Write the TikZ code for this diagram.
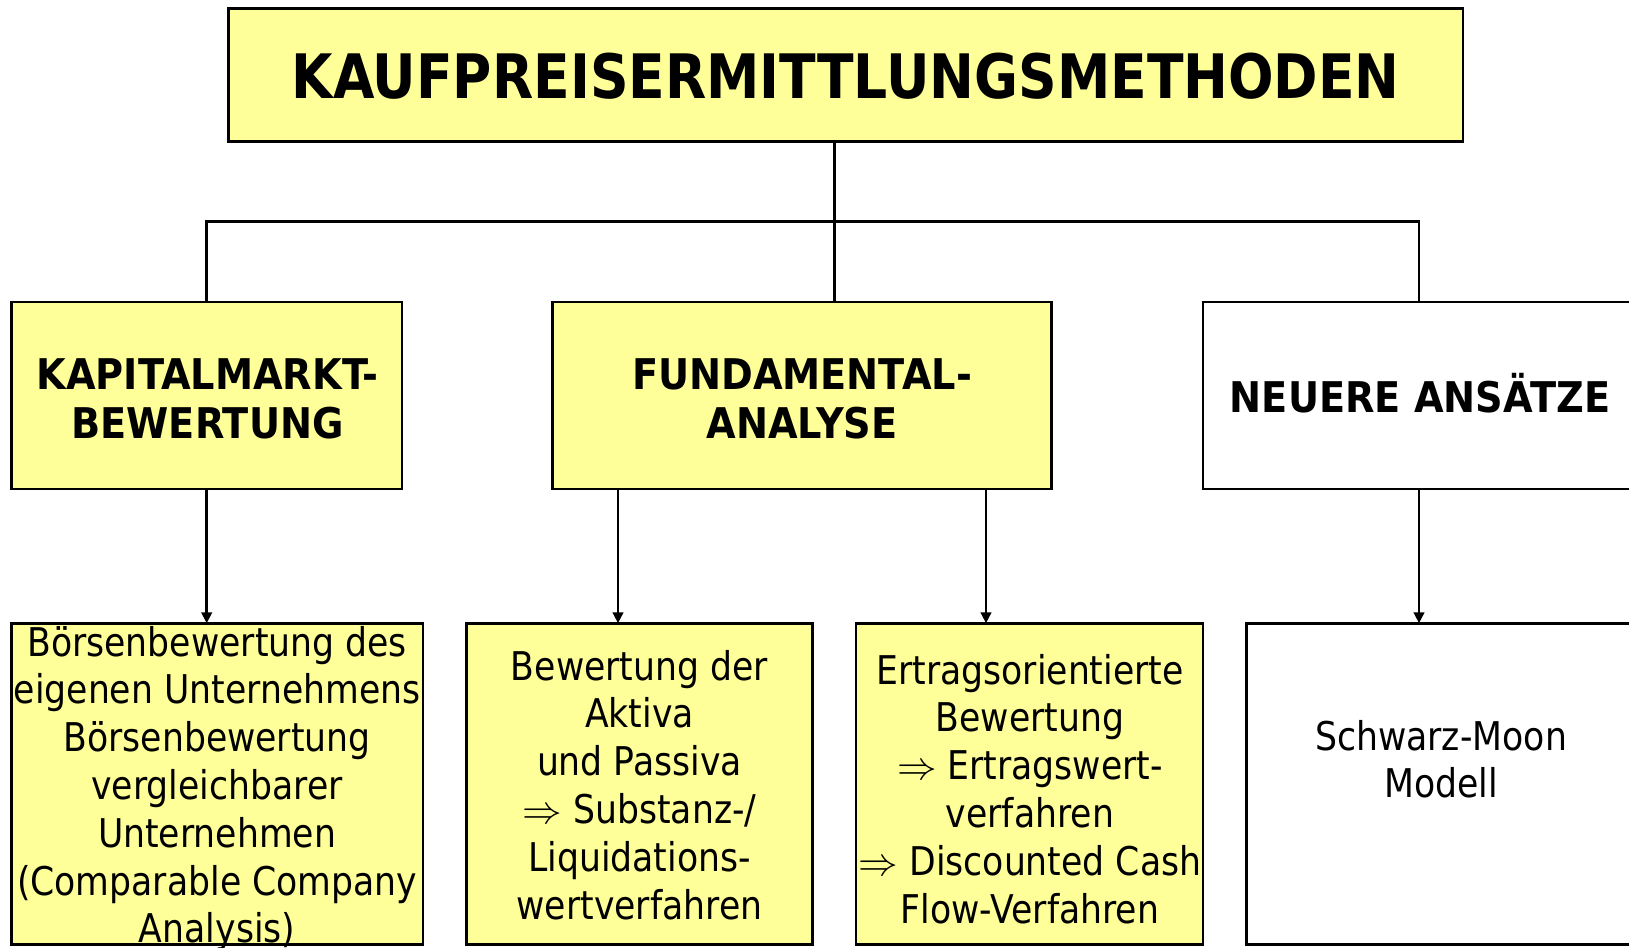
\RequirePackage{fix-cm}
\documentclass[tikz,border=0pt]{standalone}
\usepackage{fontspec}
\setmainfont{DejaVu Sans}[FakeStretch=0.875]
\newfontfamily\headfont{DejaVu Sans}[FakeStretch=0.905]
\newfontfamily\titlefont{DejaVu Sans}[FakeStretch=0.874]
\usetikzlibrary{arrows.meta}
\definecolor{boxyellow}{HTML}{FFFF99}

\tikzset{
  panel/.style={draw=black, line width=2.6pt, inner sep=0pt, outer sep=0pt},
  yellowpanel/.style={panel, fill=boxyellow},
  label/.style={inner sep=0pt, outer sep=0pt, anchor=base},
  headtext/.style={label, font=\headfont\bfseries\fontsize{42.3}{49.5}\selectfont},
  bodytext/.style={label, font=\fontsize{39.6}{47.8}\selectfont},
  link/.style={draw=black, line width=2.6pt},
  arrowlink/.style={link, -{Triangle[length=11pt,width=10.5pt]}}
}

\newcommand{\lines}[1]{\begin{tabular}[t]{@{}c@{}}#1\end{tabular}}

\begin{document}
\begin{tikzpicture}[x=1pt,y=-1pt]
  \useasboundingbox (0,0) rectangle (1629,947);
  \clip (0,0) rectangle (1629,947);

  % boxes
  \node[yellowpanel, minimum width=1234.2pt, minimum height=133pt] (top) at (845.7,74.8) {};
  \node[yellowpanel, minimum width=390.6pt, minimum height=187pt] (kap) at (206.7,395.5) {};
  \node[yellowpanel, minimum width=498.7pt, minimum height=187pt] (fund) at (802,395.5) {};
  \node[panel, fill=white, minimum width=432pt, minimum height=187pt] (neu) at (1419,395.5) {};
  \node[yellowpanel, minimum width=411.4pt, minimum height=321.1pt] (b1) at (217.1,783.85) {};
  \node[yellowpanel, minimum width=345.9pt, minimum height=321.1pt] (b2) at (639.45,783.85) {};
  \node[yellowpanel, minimum width=347pt, minimum height=321.1pt] (b3) at (1029.5,783.85) {};
  \node[panel, fill=white, minimum width=388.3pt, minimum height=321.1pt] (b4) at (1440.85,783.85) {};

  % texts
  \node[label, font=\titlefont\bfseries\fontsize{61.3}{70}\selectfont] (toptext) at (845.7,98.7) {KAUFPREISERMITTLUNGSMETHODEN};
  \node[headtext] (kaptext) at (207.5,389) {\lines{KAPITALMARKT-\\BEWERTUNG}};
  \node[headtext] (fundtext) at (802,389) {\lines{FUNDAMENTAL-\\ANALYSE}};
  \node[headtext] (neutext) at (1420,412) {NEUERE ANSÄTZE};
  \node[bodytext] (b1text) at (217.1,656) {\lines{Börsenbewertung des\\eigenen Unternehmens\\Börsenbewertung\\vergleichbarer\\Unternehmen\\(Comparable Company\\Analysis)}};
  \node[bodytext] (b2text) at (639.5,680) {\lines{Bewertung der\\Aktiva\\und Passiva\\$\Rightarrow$ Substanz-/\\Liquidations-\\wertverfahren}};
  \node[bodytext] (b3text) at (1030,684) {\lines{Ertragsorientierte\\Bewertung\\$\Rightarrow$ Ertragswert-\\verfahren\\$\Rightarrow$ Discounted Cash\\Flow-Verfahren}};
  \node[bodytext] (b4text) at (1441,750) {\lines{Schwarz-Moon\\Modell}};

  % tree connectors
  \coordinate (bus) at (834.5,221.5);
  \draw[link] (top.south -| bus) -- (bus) -- (fund.north -| bus);
  \draw[link] (kap.north) |- (bus) -| (neu.north);

  % arrows to the method boxes
  \draw[arrowlink] (kap.south) -- (kap.south |- b1.north);
  \draw[arrowlink] ([xshift=-184pt]fund.south) -- ([xshift=-184pt]fund.south |- b2.north);
  \draw[arrowlink] ([xshift=184pt]fund.south) -- ([xshift=184pt]fund.south |- b3.north);
  \draw[arrowlink] (neu.south) -- (neu.south |- b4.north);
\end{tikzpicture}
\end{document}
